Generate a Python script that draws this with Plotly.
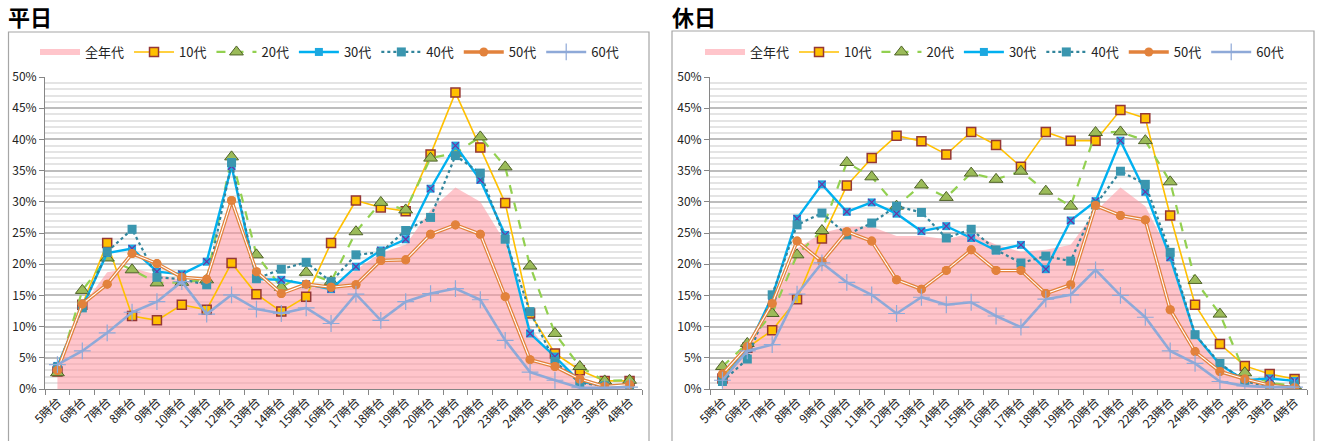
import plotly.graph_objects as go

# 時間帯
hours = ["5時台", "6時台", "7時台", "8時台", "9時台", "10時台", "11時台", "12時台",
         "13時台", "14時台", "15時台", "16時台", "17時台", "18時台", "19時台", "20時台",
         "21時台", "22時台", "23時台", "24時台", "1時台", "2時台", "3時台", "4時台"]

# 平日 (%)
wd_all = [3.0, 13.3, 18.7, 19.4, 18.3, 17.5, 16.8, 29.5, 17.8, 15.8, 16.5, 16.5,
          19.1, 21.8, 23.1, 28.7, 32.3, 30.0, 23.5, 10.0, 4.5, 1.7, 0.7, 0.7]
wd_10 = [2.8, 13.5, 23.4, 11.7, 11.0, 13.5, 12.7, 20.2, 15.2, 12.4, 14.8, 23.4,
         30.2, 29.1, 28.5, 37.6, 47.5, 38.7, 29.8, 12.1, 5.7, 3.0, 1.3, 1.3]
wd_20 = [2.6, 15.8, 21.0, 19.1, 17.0, 17.1, 17.5, 37.2, 21.5, 16.3, 18.7, 17.2,
         25.2, 29.9, 28.7, 37.0, 37.8, 40.4, 35.6, 19.7, 8.9, 3.6, 1.3, 1.4]
wd_30 = [3.7, 13.1, 21.8, 22.5, 18.8, 18.4, 20.4, 35.7, 17.6, 17.5, 16.8, 16.0,
         19.6, 22.2, 24.0, 32.1, 39.0, 33.5, 24.7, 8.9, 5.2, 1.2, 0.5, 0.6]
wd_40 = [3.5, 13.0, 22.0, 25.6, 17.9, 17.6, 16.7, 36.3, 17.7, 19.2, 20.3, 17.2,
         21.5, 21.9, 25.4, 27.5, 37.4, 34.6, 24.0, 12.4, 4.4, 1.0, 0.5, 0.3]
wd_50 = [3.0, 13.6, 16.8, 21.7, 20.1, 17.9, 17.6, 30.2, 18.8, 15.3, 16.8, 16.3,
         16.7, 20.6, 20.7, 24.8, 26.3, 24.8, 14.8, 4.7, 3.6, 1.6, 0.4, 0.7]
wd_60 = [3.9, 6.1, 9.0, 12.3, 14.0, 17.2, 12.0, 15.1, 12.8, 12.1, 13.0, 10.5,
         15.2, 11.0, 14.0, 15.3, 16.1, 14.3, 7.8, 2.7, 1.4, 0.2, 0.2, 0.3]

# 休日 (%)
hd_all = [1.5, 6.3, 13.0, 22.5, 25.0, 26.0, 26.0, 24.5, 24.5, 24.0, 25.0, 23.1,
          22.0, 22.3, 23.1, 28.5, 32.3, 29.3, 21.5, 8.9, 3.5, 1.2, 0.6, 0.5]
hd_10 = [1.7, 6.6, 9.4, 14.4, 24.1, 32.6, 37.0, 40.6, 39.7, 37.6, 41.2, 39.1,
         35.6, 41.2, 39.8, 39.8, 44.7, 43.4, 27.8, 13.5, 7.2, 3.7, 2.4, 1.6]
hd_20 = [3.6, 7.3, 12.1, 21.5, 25.4, 36.3, 34.0, 29.3, 32.7, 30.7, 34.6, 33.6,
         34.9, 31.7, 29.3, 41.1, 41.2, 39.8, 33.2, 17.4, 12.0, 2.6, 1.0, 0.5]
hd_30 = [1.3, 6.5, 14.8, 27.3, 32.8, 28.4, 29.9, 28.1, 25.3, 26.1, 24.2, 22.2,
         23.1, 19.2, 27.0, 30.1, 39.8, 31.6, 21.1, 8.7, 3.9, 1.4, 1.7, 1.3]
hd_40 = [1.2, 4.8, 15.1, 26.3, 28.2, 24.7, 26.6, 29.3, 28.3, 24.2, 25.6, 22.3,
         20.2, 21.3, 20.5, 29.5, 34.9, 32.8, 21.9, 8.7, 4.1, 1.2, 0.4, 0.5]
hd_50 = [2.4, 6.8, 13.7, 23.7, 20.4, 25.2, 23.7, 17.5, 16.0, 19.0, 22.3, 19.0,
         19.0, 15.3, 16.7, 29.4, 27.8, 27.1, 12.7, 6.0, 2.8, 1.6, 0.6, 0.2]
hd_60 = [1.4, 6.1, 7.1, 15.2, 20.2, 17.1, 15.1, 12.1, 14.7, 13.5, 13.9, 11.7,
         9.9, 14.4, 15.1, 19.1, 15.0, 11.5, 6.1, 4.1, 1.2, 0.5, 0.3, 0.3]

W, H = 1317, 441
FONT = "Noto Sans CJK JP, Noto Sans, sans-serif"


def px_x(v):
    return v / W


def px_y(v):
    return 1 - v / H


fig = go.Figure()


def add_chart(xa, ya, leg, all_, s10, s20, s30, s40, s50, s60):
    common = dict(x=hours, xaxis=xa, yaxis=ya, legend=leg, hoverinfo="skip")
    fig.add_trace(go.Scatter(y=all_, name="全年代", mode="none", fill="tozeroy",
                             fillcolor="rgba(255,150,160,0.55)", **common))
    fig.add_trace(go.Scatter(y=s10, name="10代", mode="lines+markers",
                             line=dict(color="#FFC000", width=1.6),
                             marker=dict(symbol="square", size=9, color="#FFC000",
                                         line=dict(color="#953735", width=1.5)),
                             **common))
    fig.add_trace(go.Scatter(y=s20, name="20代", mode="lines+markers",
                             line=dict(color="#92D050", width=2.2, dash="dash"),
                             marker=dict(symbol="triangle-up", size=12, color="#9BBB59",
                                         line=dict(color="#4F6228", width=1)),
                             **common))
    fig.add_trace(go.Scatter(y=s30, name="30代", mode="lines+markers",
                             line=dict(color="#00B0F0", width=2.4),
                             marker=dict(symbol="square", size=8, color="#1CA8E0",
                                         line=dict(color="#00B0F0", width=0)),
                             **common))
    fig.add_trace(go.Scatter(y=s30, mode="markers", showlegend=False,
                             marker=dict(symbol="x-thin", size=7,
                                         line=dict(color="#7030A0", width=1.2)),
                             **common))
    fig.add_trace(go.Scatter(y=s40, name="40代", mode="lines+markers",
                             line=dict(color="#31859C", width=2.2, dash="dot"),
                             marker=dict(symbol="square", size=9, color="#3A96AF"),
                             **common))
    # 二重線
    fig.add_trace(go.Scatter(y=s50, name="50代", mode="lines+markers",
                             line=dict(color="#E2823C", width=3.6),
                             marker=dict(symbol="circle", size=9, color="#E2823C"),
                             **common))
    fig.add_trace(go.Scatter(y=s50, mode="lines", showlegend=False,
                             line=dict(color="white", width=1.1), **common))
    fig.add_trace(go.Scatter(y=s50, mode="markers", showlegend=False,
                             marker=dict(symbol="circle", size=9, color="#E2823C"),
                             **common))
    fig.add_trace(go.Scatter(y=s60, name="60代", mode="lines+markers",
                             line=dict(color="#8EA9D8", width=2.6),
                             marker=dict(symbol="cross-thin", size=12,
                                         line=dict(color="#8EA9D8", width=1.2)),
                             **common))


add_chart("x", "y", "legend", wd_all, wd_10, wd_20, wd_30, wd_40, wd_50, wd_60)
add_chart("x2", "y2", "legend2", hd_all, hd_10, hd_20, hd_30, hd_40, hd_50, hd_60)

xax = dict(type="category", categoryarray=hours, range=[-0.5, 23.5], automargin=False,
           showline=True, linecolor="#868686", linewidth=1,
           ticks="outside", tickson="boundaries", ticklen=5, tickcolor="#868686",
           tickangle=-45, tickfont=dict(size=12, color="#222", family=FONT),
           showgrid=False, zeroline=False)
yax = dict(range=[0, 50], dtick=5, ticksuffix="%", automargin=False,
           showline=True, linecolor="#868686", linewidth=1,
           ticks="outside", ticklen=5, tickcolor="#868686",
           tickfont=dict(size=12, color="#222", family=FONT),
           showgrid=True, gridcolor="#BDBDBD", gridwidth=1.5,
           minor=dict(dtick=1, showgrid=True, gridcolor="#E4E4E4", gridwidth=2),
           zeroline=False)

ydom = [px_y(389), px_y(77)]
legend_common = dict(orientation="h", yanchor="middle", y=px_y(52), xanchor="left",
                     font=dict(size=13, color="#222", family=FONT),
                     bgcolor="rgba(0,0,0,0)", itemwidth=40, traceorder="normal")

fig.update_layout(
    width=W, height=H,
    margin=dict(l=0, r=0, t=0, b=0, autoexpand=False),
    paper_bgcolor="white", plot_bgcolor="white",
    font=dict(family=FONT),
    showlegend=True,
    xaxis=dict(domain=[px_x(45), px_x(642)], anchor="y", **xax),
    yaxis=dict(domain=ydom, anchor="x", **yax),
    xaxis2=dict(domain=[px_x(710), px_x(1307)], anchor="y2", **xax),
    yaxis2=dict(domain=ydom, anchor="x2", **yax),
    legend=dict(x=px_x(35), **legend_common),
    legend2=dict(x=px_x(700), **legend_common),
    shapes=[
        dict(type="rect", xref="paper", yref="paper", x0=px_x(8.5), x1=px_x(649),
             y0=-0.05, y1=px_y(32), line=dict(color="#A6A6A6", width=1.2)),
        dict(type="rect", xref="paper", yref="paper", x0=px_x(672), x1=px_x(1314),
             y0=-0.05, y1=px_y(31), line=dict(color="#A6A6A6", width=1.2)),
    ],
    annotations=[
        dict(text="<b>平日</b>", xref="paper", yref="paper", x=px_x(6), y=px_y(16),
             xanchor="left", yanchor="middle", showarrow=False,
             font=dict(size=22, color="black", family=FONT)),
        dict(text="<b>休日</b>", xref="paper", yref="paper", x=px_x(670), y=px_y(16),
             xanchor="left", yanchor="middle", showarrow=False,
             font=dict(size=22, color="black", family=FONT)),
    ],
)

# ページ既定の余白をなくす
fig.write_html("out.html", config={"displayModeBar": False},
               post_script="document.body.style.margin='0';")
